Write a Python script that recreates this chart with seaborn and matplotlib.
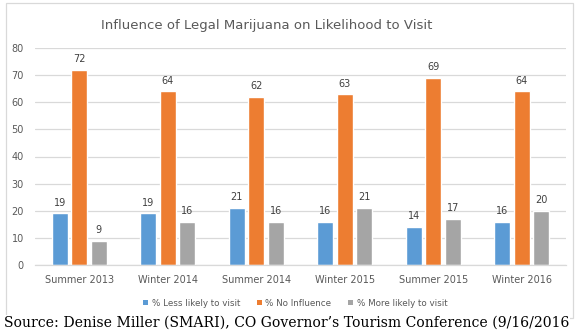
import matplotlib
matplotlib.use("Agg")
import matplotlib.pyplot as plt
import seaborn as sns
import pandas as pd
from matplotlib.patches import Rectangle, Patch

categories = ["Summer 2013", "Winter 2014", "Summer 2014", "Winter 2015", "Summer 2015", "Winter 2016"]
series_names = ["% Less likely to visit", "% No Influence", "% More likely to visit"]
less_likely = [19, 19, 21, 16, 14, 16]
no_influence = [72, 64, 62, 63, 69, 64]
more_likely = [9, 16, 16, 21, 17, 20]
y_ticks = [0, 10, 20, 30, 40, 50, 60, 70, 80]
colors = ["#5B9BD5", "#ED7D31", "#A5A5A5"]

rows = []
for name, vals in zip(series_names, [less_likely, no_influence, more_likely]):
    for c, v in zip(categories, vals):
        rows.append({"period": c, "series": name, "value": v})
df = pd.DataFrame(rows)

sns.set_style("white")
plt.rcParams["font.family"] = ["DejaVu Sans"]

W, H = 576, 335
fig = plt.figure(figsize=(W / 100, H / 100), dpi=100)
ax = fig.add_axes([35 / W, 1 - 265 / H, (566 - 35) / W, (265 - 48) / H])

sns.barplot(data=df, x="period", y="value", hue="series", order=categories,
            hue_order=series_names, palette=colors, width=0.66, gap=0.2,
            saturation=1, ax=ax, legend=False)

ax.set_ylim(0, 80)
ax.set_yticks(y_ticks)
ax.yaxis.grid(True, color="#D9D9D9", linewidth=0.9)
ax.set_axisbelow(True)
for s in ["top", "right", "left"]:
    ax.spines[s].set_visible(False)
ax.spines["bottom"].set_color("#D9D9D9")
ax.spines["bottom"].set_linewidth(0.9)
ax.tick_params(axis="both", length=0, labelsize=7, labelcolor="#595959")
ax.tick_params(axis="y", pad=8)
ax.tick_params(axis="x", pad=7)
ax.set_xlabel("")
ax.set_ylabel("")

for cont in ax.containers:
    ax.bar_label(cont, labels=[f"{int(v)}" for v in cont.datavalues], padding=4,
                 fontsize=7, color="#404040")

fig.text(267 / W, 1 - 25 / H, "Influence of Legal Marijuana on Likelihood to Visit",
         ha="center", va="center", fontsize=9.5, color="#595959")

handles = [Patch(facecolor=c, edgecolor="none") for c in colors]
fig.legend(handles, series_names, loc="center", bbox_to_anchor=(295 / W, 1 - 303 / H),
           ncol=3, frameon=False, fontsize=6.3, handlelength=0.6, handleheight=0.6,
           handletextpad=0.4, columnspacing=1.9, labelcolor="#595959")

fig.patches.append(Rectangle((6 / W, 1 - 318 / H), (573 - 6) / W, (318 - 3) / H,
                             transform=fig.transFigure, fill=False,
                             edgecolor="#D9D9D9", linewidth=0.9))

fig.text(4 / W, 1 - 323 / H, "Source: Denise Miller (SMARI), CO Governor\u2019s Tourism Conference (9/16/2016",
         ha="left", va="center", fontsize=10.1, family=["DejaVu Serif"], color="black",
         bbox=dict(facecolor="white", edgecolor="none", pad=0.5))

fig.savefig("out.png", dpi=100, facecolor="white")
